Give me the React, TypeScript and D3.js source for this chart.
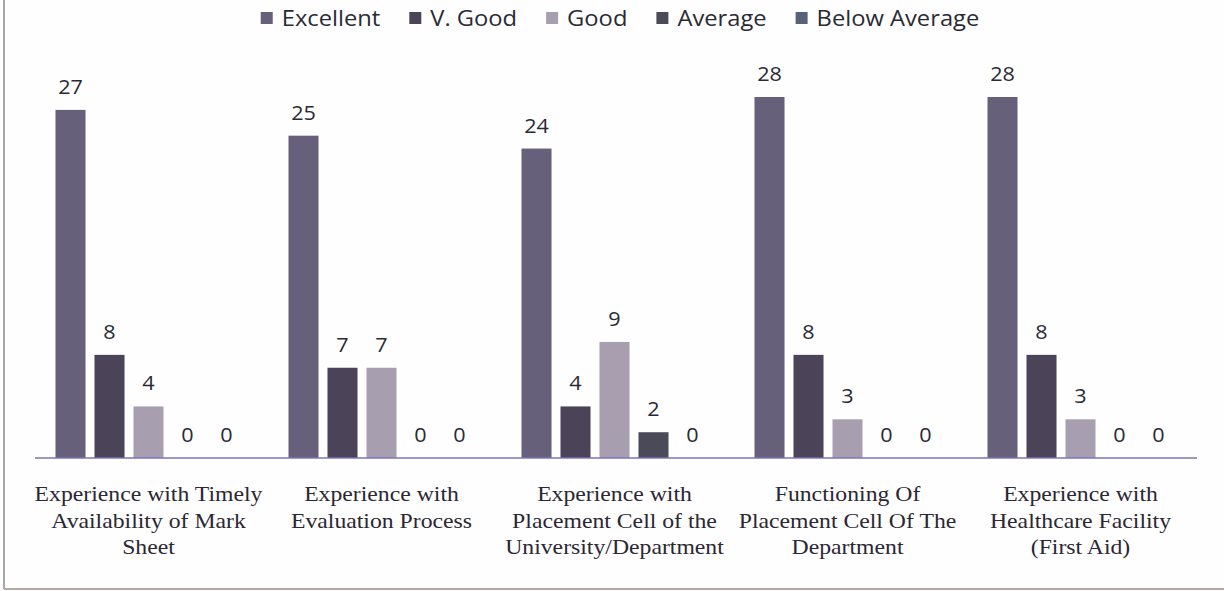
import React, { useEffect, useRef } from "react";
import * as d3 from "d3";

const categories: string[][] = [
  ["Experience with Timely", "Availability of Mark", "Sheet"],
  ["Experience with", "Evaluation Process"],
  ["Experience with", "Placement Cell of the", "University/Department"],
  ["Functioning Of", "Placement Cell Of The", "Department"],
  ["Experience with", "Healthcare Facility", "(First Aid)"],
];
const seriesNames = ["Excellent", "V. Good", "Good", "Average", "Below Average"];
const excellent = [27, 25, 24, 28, 28];
const vgood = [8, 7, 4, 8, 8];
const good = [4, 7, 9, 3, 3];
const average = [0, 0, 2, 0, 0];
const belowAverage = [0, 0, 0, 0, 0];
const seriesColors = ["#67607a", "#4b4458", "#a79eb0", "#4a4a58", "#56627a"];

const W = 1224;
const H = 591;
const SX = 1.13;

export default function App() {
  const ref = useRef<SVGSVGElement>(null);
  useEffect(() => {
    const svg = d3.select(ref.current!);
    svg.selectAll("*").remove();
    const series = [excellent, vgood, good, average, belowAverage];
    const idx = categories.map((_, i) => String(i));
    const x0 = d3.scaleBand<string>().domain(idx).range([32, 1197]).padding(0);
    const x1 = d3.scaleBand<string>().domain(seriesNames).range([-93, 93]).paddingInner(0.23).paddingOuter(0);
    const y = d3.scaleLinear().domain([0, 28]).range([458, 97]);

    svg.append("rect").attr("x", 0).attr("y", 0).attr("width", W).attr("height", H).attr("fill", "#fefefe");
    svg.append("line").attr("x1", 4).attr("x2", 4).attr("y1", 0).attr("y2", 589).attr("stroke", "#8a8a94").attr("stroke-width", 1.5);
    svg.append("line").attr("x1", 4).attr("x2", W).attr("y1", 589).attr("y2", 589).attr("stroke", "#b7a9a0").attr("stroke-width", 2);

    const groups = svg.selectAll("g.grp").data(idx).enter().append("g")
      .attr("transform", (d) => `translate(${x0(d)! + x0.bandwidth() / 2},0)`);

    seriesNames.forEach((name, si) => {
      groups.append("rect")
        .attr("x", x1(name)!)
        .attr("width", x1.bandwidth())
        .attr("y", (d) => y(series[si][+d]))
        .attr("height", (d) => y(0) - y(series[si][+d]))
        .attr("fill", seriesColors[si]);
      groups.append("text")
        .attr("transform", (d) => `translate(${x1(name)! + x1.bandwidth() / 2},${y(series[si][+d]) - 16}) scale(1.08,1)`)
        .attr("text-anchor", "middle")
        .attr("font-family", "Open Sans, sans-serif")
        .attr("font-size", 20)
        .attr("fill", "#2a2a35")
        .text((d) => String(series[si][+d]));
    });

    svg.append("line").attr("x1", 35).attr("x2", 1197).attr("y1", y(0)).attr("y2", y(0))
      .attr("stroke", "#7f74b8").attr("stroke-width", 1.5);

    groups.each(function (d) {
      const g = d3.select(this);
      categories[+d].forEach((line, li) => {
        g.append("text")
          .attr("transform", `translate(0,${501 + li * 26.5}) scale(${SX},1)`)
          .attr("text-anchor", "middle")
          .attr("font-family", "Liberation Serif, Times New Roman, serif")
          .attr("font-size", 21)
          .attr("fill", "#2b2733")
          .text(line);
      });
    });

    // legend
    const leg = svg.append("g");
    let cx = 0;
    const GAP = 29;
    seriesNames.forEach((name, si) => {
      const item = leg.append("g").attr("transform", `translate(${cx},0)`);
      item.append("rect").attr("x", 0).attr("y", 12).attr("width", 12).attr("height", 12).attr("fill", seriesColors[si]);
      const t = item.append("text").attr("transform", `translate(21,26) scale(${SX},1)`)
        .attr("font-family", "Open Sans, sans-serif").attr("font-size", 21).attr("fill", "#2a2a35").text(name);
      const len = (t.node() as SVGTextElement).getComputedTextLength() * SX;
      cx += 21 + len + GAP;
    });
    const total = cx - GAP;
    leg.attr("transform", `translate(${620 - total / 2},0)`);
  }, []);
  return (
    <div style={{ position: "absolute", left: 0, top: 0 }}>
      <svg ref={ref} width={W} height={H} style={{ display: "block" }} />
    </div>
  );
}
